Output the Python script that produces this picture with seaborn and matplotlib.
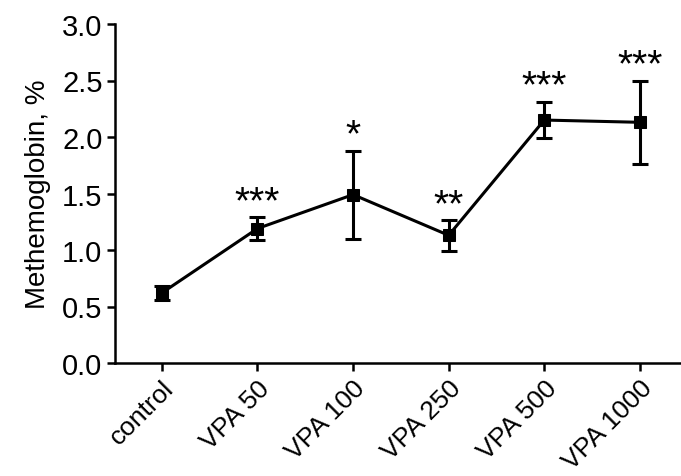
import matplotlib
matplotlib.use("Agg")
import matplotlib.pyplot as plt
import matplotlib.transforms as mtransforms
import seaborn as sns
import pandas as pd

categories = ["control", "VPA 50", "VPA 100", "VPA 250", "VPA 500", "VPA 1000"]
means = [0.62, 1.19, 1.49, 1.13, 2.15, 2.13]
errors = [0.06, 0.10, 0.39, 0.135, 0.16, 0.37]
stars = ["", "***", "*", "**", "***", "***"]
yticks = [0.0, 0.5, 1.0, 1.5, 2.0, 2.5, 3.0]

sns.set_theme(style="ticks")
plt.rcParams["font.family"] = ["Liberation Sans", "DejaVu Sans"]

df = pd.DataFrame({"group": categories, "value": means, "err": errors})
pos = list(range(len(categories)))
df["pos"] = pos

fig = plt.figure(figsize=(6.81, 4.77), dpi=100)
ax = fig.add_axes([115 / 681, 1 - 364 / 477, (681 - 115) / 681, (364 - 25) / 477])

sns.lineplot(data=df, x="pos", y="value", sort=False, color="black", lw=2.2,
             marker="s", markersize=9, markeredgecolor="black", ax=ax)
ax.errorbar(df["pos"], df["value"], yerr=df["err"], fmt="none", ecolor="black",
            elinewidth=2.2, capsize=6, capthick=2.2)

for x, m, e, s in zip(pos, means, errors, stars):
    if s:
        ax.annotate(s, (x, m + e), xytext=(0, -2), textcoords="offset points",
                    ha="center", va="bottom", fontsize=28, color="black")

ax.set_xlim(-0.49, 5.43)
ax.set_ylim(0, 3.0)
ax.set_yticks(yticks)
ax.set_yticklabels([f"{t:.1f}" for t in yticks], fontsize=21)
ax.set_xticks(pos)
ax.set_xticklabels(categories, rotation=45, ha="right", rotation_mode="anchor", fontsize=19)
offset = mtransforms.ScaledTranslation(8 / 100, 5 / 100, fig.dpi_scale_trans)
for lab in ax.get_xticklabels():
    lab.set_transform(lab.get_transform() + offset)
ax.set_xlabel("")
ax.set_ylabel("Methemoglobin, %", fontsize=20, labelpad=8, color="black")
ax.tick_params(axis="both", direction="out", length=6, width=1.8, color="black",
               labelcolor="black", pad=3)
for side in ["left", "bottom"]:
    ax.spines[side].set_linewidth(1.8)
    ax.spines[side].set_color("black")
sns.despine(ax=ax)

fig.savefig("out.png", dpi=100)
